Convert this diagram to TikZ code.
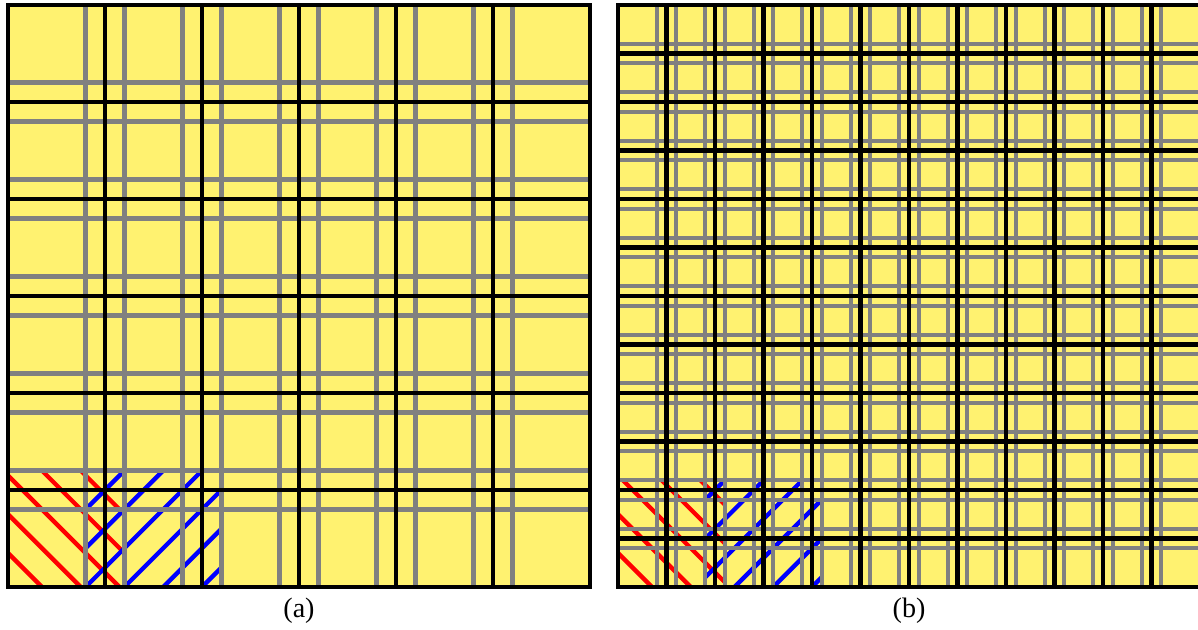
\documentclass[tikz,border=0pt]{standalone}
\usepackage{fontspec}
\setmainfont{Liberation Serif}
\definecolor{cellyellow}{RGB}{255,242,112}

\tikzset{
  coarse/.style={line width=3.4pt, black},
  halo/.style={line width=3pt, gray},
  hatchred/.style={line width=3.1pt, red},
  hatchblue/.style={line width=3.1pt, blue},
  caption/.style={font=\fontsize{20}{22}\selectfont},
}

\begin{document}
\begin{tikzpicture}[x=2.425cm, y=2.425cm]
\useasboundingbox (-0.0825,-0.433) rectangle (12.268,6.0515);

% (a) six by six blocks
\fill[cellyellow] (0,0) rectangle (6,6);
\begin{scope}
  \clip (0,0) rectangle (1.2,1.2);
  \foreach \c in {-0.05,0.35,...,2.4} \draw[hatchred] (\c-2,2) -- (\c+2,-2);
\end{scope}
\begin{scope}
  \clip (0.8,0) rectangle (2.2,1.2);
  \foreach \c in {-0.4,0,...,2.4} \draw[hatchblue] (\c-2,-2) -- (\c+2,2);
\end{scope}
\foreach \i in {1,...,5} {
  \draw[halo] (\i-0.2,0) -- (\i-0.2,6);
  \draw[halo] (\i+0.2,0) -- (\i+0.2,6);
  \draw[halo] (0,\i-0.2) -- (6,\i-0.2);
  \draw[halo] (0,\i+0.2) -- (6,\i+0.2);
}
\foreach \i in {1,...,5} {
  \draw[coarse] (\i,0) -- (\i,6);
  \draw[coarse] (0,\i) -- (6,\i);
}
\draw[coarse] (0,0) rectangle (6,6);
\node[caption] (capa) at (3,-0.24) {(a)};

% (b) twelve by twelve blocks
\begin{scope}[shift={(6.289,0)}]
  \fill[cellyellow] (0,0) rectangle (6,6);
  \begin{scope}
    \clip (0,0) rectangle (1.1,1.1);
    \foreach \c in {-0.05,0.35,...,2.4} \draw[hatchred] (\c-2,2) -- (\c+2,-2);
  \end{scope}
  \begin{scope}
    \clip (0.9,0) rectangle (2.1,1.1);
    \foreach \c in {-0.4,0,...,2.4} \draw[hatchblue] (\c-2,-2) -- (\c+2,2);
  \end{scope}
  \foreach \i in {0.5,1,...,5.5} {
    \draw[halo] (\i-0.1,0) -- (\i-0.1,6);
    \draw[halo] (\i+0.1,0) -- (\i+0.1,6);
    \draw[halo] (0,\i-0.1) -- (6,\i-0.1);
    \draw[halo] (0,\i+0.1) -- (6,\i+0.1);
  }
  \foreach \i in {0.5,1,...,5.5} {
    \draw[coarse] (\i,0) -- (\i,6);
    \draw[coarse] (0,\i) -- (6,\i);
  }
  \draw[coarse] (0,0) rectangle (6,6);
  \node[caption] (capb) at (3,-0.24) {(b)};
\end{scope}
\end{tikzpicture}
\end{document}
